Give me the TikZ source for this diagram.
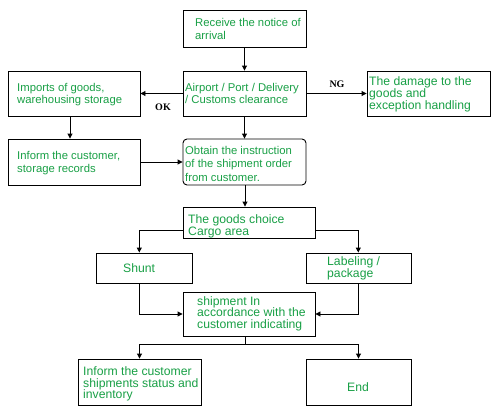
\documentclass[tikz,border=0pt]{standalone}
\usepackage{fontspec}
\setmainfont{Liberation Sans}
\newfontfamily\lblfont{Liberation Serif}
\usetikzlibrary{arrows.meta}
\definecolor{txtgreen}{RGB}{25,160,70}
\newcommand\fsA{\fontsize{11.3}{13.5}\selectfont}
\newcommand\fsB{\fontsize{12.2}{12}\selectfont}
\tikzset{
  box/.style={draw=black, line width=0.9pt, rectangle, inner sep=0pt},
  txt/.style={anchor=base west, inner sep=0pt, text=txtgreen},
  conn/.style={draw=black, line width=0.9pt},
  arr/.style={conn, -{Triangle[length=5pt,width=5pt]}},
  lbl/.style={font=\lblfont\bfseries\fontsize{10}{10}\selectfont, inner sep=0pt}
}
\begin{document}
\begin{tikzpicture}[x=1pt,y=-1pt]
\useasboundingbox[fill=white] (0,0) rectangle (496,415);
% boxes
\node[box, minimum width=123pt, minimum height=37pt] (rcv) at (244.5,28.5) {};
\node[box, minimum width=123pt, minimum height=45pt] (air) at (244.5,93.5) {};
\node[box, minimum width=132pt, minimum height=45pt] (imp) at (74,93.5) {};
\node[box, minimum width=123pt, minimum height=45pt] (dmg) at (428.5,93.5) {};
\node[box, minimum width=132pt, minimum height=46pt] (inf) at (74,162) {};
\node[box, rounded corners=4pt, minimum width=123pt, minimum height=46pt] (obt) at (244.5,162) {};
\node[box, minimum width=132pt, minimum height=31pt] (cgo) at (249,222.5) {};
\node[box, minimum width=96pt, minimum height=30pt] (sht) at (144,268) {};
\node[box, minimum width=105pt, minimum height=30pt] (lab) at (358.5,268) {};
\node[box, minimum width=132pt, minimum height=44pt] (shp) at (249,314) {};
\node[box, minimum width=123pt, minimum height=46pt] (ics) at (139.5,382) {};
\node[box, minimum width=105pt, minimum height=46pt] (end) at (358.5,382) {};
% texts
\node[txt] (trcv) at (195,26.3) {\fsA\vtop{\baselineskip=13pt\hbox{Receive the notice of}\hbox{arrival}}};
\node[txt] (tair) at (185,91) {\fsA\vtop{\baselineskip=13pt\hbox{Airport / Port / Delivery}\hbox{/ Customs clearance}}};
\node[txt] (timp) at (17,91) {\fsA\vtop{\baselineskip=13pt\hbox{Imports of goods,}\hbox{warehousing storage}}};
\node[txt] (tdmg) at (369,85.7) {\fsB\vtop{\baselineskip=11.8pt\hbox{The damage to the}\hbox{goods and}\hbox{exception handling}}};
\node[txt] (tinf) at (17,159) {\fsA\vtop{\baselineskip=13.6pt\hbox{Inform the customer,}\hbox{storage records}}};
\node[txt] (tobt) at (185,154) {\fsA\vtop{\baselineskip=13.8pt\hbox{Obtain the instruction}\hbox{of the shipment order}\hbox{from customer.}}};
\node[txt] (tcgo) at (188,223) {\fsB\vtop{\baselineskip=12pt\hbox{The goods choice}\hbox{Cargo area}}};
\node[txt] (tsht) at (123,272) {\fsB Shunt};
\node[txt] (tlab) at (327,265.7) {\fsB\vtop{\baselineskip=11.4pt\hbox{Labeling /}\hbox{package}}};
\node[txt] (tshp) at (197,305) {\fsB\vtop{\baselineskip=11.8pt\hbox{shipment In}\hbox{accordance with the}\hbox{customer indicating}}};
\node[txt] (tics) at (83,375.3) {\fsB\vtop{\baselineskip=11.7pt\hbox{Inform the customer}\hbox{shipments status and}\hbox{inventory}}};
\node[txt] (tend) at (347,391) {\fsB End};
% labels
\node[lbl] (ok) at (163,107) {OK};
\node[lbl] (ng) at (337,84) {NG};
% coordinates
\coordinate (impd) at (70,116);
\coordinate (cgol) at (183,230);
\coordinate (cgor) at (315,230);
\coordinate (shtd) at (139.3,283);
\coordinate (labd) at (358.3,283);
\coordinate (shpd) at (245,336);
\coordinate (obtd) at (245,185);
% connectors
\draw[arr] (rcv.south) -- (air.north);
\draw[arr] (air.west) -- (imp.east);
\draw[arr] (air.east) -- (dmg.west);
\draw[arr] (impd) -- (impd |- inf.north);
\draw[arr] (air.south) -- (obt.north);
\draw[arr] (inf.east) -- (obt.west);
\draw[arr] (obtd) -- (obtd |- cgo.north);
\draw[arr] (cgol) -| (shtd |- sht.north);
\draw[arr] (cgor) -| (labd |- lab.north);
\draw[arr] (shtd) |- (shp.west);
\draw[arr] (labd) |- (shp.east);
\draw[conn] (shpd) -- (245,344);
\draw[arr] (245,344) -| (ics.north);
\draw[arr] (245,344) -| (end.north);
\end{tikzpicture}
\end{document}
